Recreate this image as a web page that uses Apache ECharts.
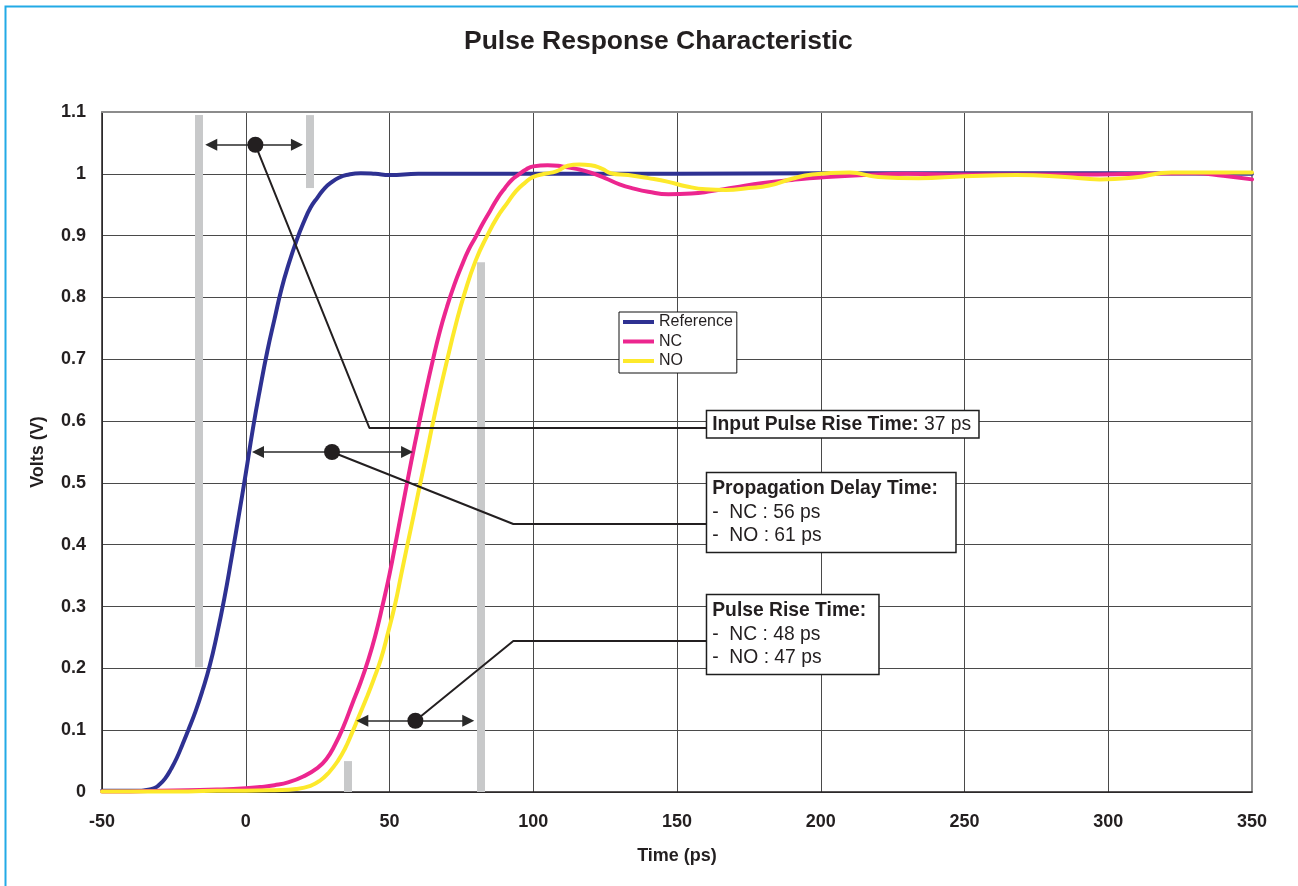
<!DOCTYPE html>
<html>
<head>
<meta charset="utf-8">
<script src="https://cdn.jsdelivr.net/npm/echarts@6/dist/echarts.min.js"></script>
<style>
html,body{margin:0;padding:0;background:#fff;}
#chart{width:1298px;height:886px;}
</style>
</head>
<body>
<div id="chart"></div>
<script>
// ---- curve data (time in ps, volts) ----
const refTime  = [-50,-45,-40,-37,-35,-32,-30,-28,-26,-24,-22,-20,-17.5,-15,-12.5,-10,-7.5,-5,-2.5,0,2.5,5,7.5,10,12.5,15,17.5,20,22.5,25,27.5,30,32.5,35,40,45,50,60,70,80,100,150,200,250,300,350];
const refVolts = [0.002,0.002,0.002,0.002,0.003,0.006,0.012,0.022,0.037,0.055,0.077,0.1,0.13,0.165,0.205,0.255,0.312,0.377,0.445,0.515,0.588,0.653,0.713,0.765,0.815,0.855,0.89,0.92,0.945,0.962,0.977,0.987,0.994,0.998,1.001,1.0,0.998,1.0,1.0,1.0,1.0,1.0,1.001,1.001,1.001,1.0];

const ncTime  = [-50,-40,-30,-20,-10,0,5,10,15,20,25,28,31,34,37,40,42.5,45,47.5,50,52.5,55,57.5,60,62.5,65,67.5,70,72.5,75,77.5,80,82.5,85,87.5,90,92.5,95,97.5,100,105,110,115,120,125,130,135,140,147,155,162,170,180,190,200,215,230,250,270,290,310,330,340,350];
const ncVolts = [0.001,0.001,0.002,0.003,0.004,0.006,0.008,0.011,0.016,0.025,0.039,0.053,0.076,0.106,0.142,0.178,0.212,0.252,0.3,0.352,0.412,0.473,0.533,0.59,0.645,0.697,0.745,0.785,0.82,0.85,0.877,0.898,0.92,0.94,0.96,0.976,0.99,0.999,1.007,1.012,1.014,1.012,1.008,1.002,0.993,0.983,0.976,0.971,0.967,0.968,0.972,0.978,0.985,0.99,0.994,0.998,1.0,0.999,0.999,0.999,1.0,1.001,0.997,0.991];

const noTime  = [-50,-40,-30,-20,-10,0,10,17.5,22.5,26,29,32,34.5,37,39.5,42,44.5,47,49.5,52,54,56,58.5,60.5,63,65,67.5,70,73,76,80,84,87.5,91,94,97,100,104,108,112,116,120,124,127,133,140,147,153,160,167,175,182,190,197,210,220,234,250,268,285,297,309,322,335,350];
const noVolts = [0.001,0.001,0.001,0.001,0.002,0.002,0.003,0.005,0.01,0.019,0.032,0.05,0.07,0.096,0.124,0.152,0.182,0.215,0.258,0.305,0.35,0.395,0.45,0.495,0.55,0.595,0.648,0.698,0.755,0.805,0.86,0.9,0.93,0.953,0.972,0.985,0.995,1.0,1.004,1.013,1.015,1.014,1.008,1.001,0.998,0.993,0.987,0.98,0.975,0.974,0.977,0.981,0.992,0.999,1.002,0.995,0.993,0.996,0.998,0.995,0.991,0.994,1.002,1.002,1.002];

const seriesNames = ['Reference', 'NC', 'NO'];

// ---- annotation geometry (in data units) ----
const barTime = [-16.2, 22.1, 35.65, 81.9];
const barFrom = [1.095, 1.095, 0.05, 0.857];
const barTo   = [0.202, 0.977, 0, 0];

const arrowLevel = [1.047, 0.55, 0.1153];
const arrowFrom  = [-14.1, 2.17, 38.45];
const arrowTo    = [19.9, 58.2, 79.5];
const dotTime    = [3.35, 30.0, 59.0];

const cornerTime  = [43.0, 93.06, 93.06];
const cornerLevel = [0.589, 0.4335, 0.2443];
const boxLeftTime = 160.5;
const boxCenter   = [0.595, 0.452, 0.2548];
const boxTexts = [
  '{b|Input Pulse Rise Time:}{n| 37 ps}',
  '{b|Propagation Delay Time:}\n{n|-  NC : 56 ps}\n{n|-  NO : 61 ps}',
  '{b|Pulse Rise Time:}\n{n|-  NC : 48 ps}\n{n|-  NO : 47 ps}'
];

const FONT = "'Liberation Sans', Arial, Helvetica, sans-serif";
const INK = '#231F20';
const colors = ['#2E3192', '#EC268F', '#FDE92B'];
const boxWidths = [266, 243, 166];
const headOffset = 2.1; // half arrow head, in ps

const zip = (a, b) => a.map((t, i) => [t, b[i]]);
const curves = [zip(refTime, refVolts), zip(ncTime, ncVolts), zip(noTime, noVolts)];

const chart = echarts.init(document.getElementById('chart'), null, {renderer: 'canvas'});

const series = [];

// grey bars
series.push({
  type: 'line', name: 'bars', data: [], z: 3, silent: true,
  markLine: {
    silent: true, symbol: 'none', animation: false,
    label: {show: false},
    lineStyle: {color: '#C8C9CA', width: 8, type: 'solid', cap: 'butt', opacity: 1},
    emphasis: {disabled: true},
    data: barTime.map((t, i) => [{coord: [t, barFrom[i]]}, {coord: [t, barTo[i]]}])
  }
});

// curves
seriesNames.forEach((n, i) => {
  series.push({
    type: 'line', name: n, data: curves[i], z: 4 + i * 0.1,
    showSymbol: false, symbol: 'none', smooth: 0.5,
    lineStyle: {color: colors[i], width: 4, cap: 'round', join: 'round'},
    itemStyle: {color: colors[i]},
    emphasis: {disabled: true}, silent: true
  });
});

// leader lines
dotTime.forEach((t, i) => {
  series.push({
    type: 'line', name: 'leader' + i, z: 6, silent: true,
    data: [[t, arrowLevel[i]], [cornerTime[i], cornerLevel[i]], [boxLeftTime, cornerLevel[i]]],
    showSymbol: false, symbol: 'none', smooth: false,
    lineStyle: {color: INK, width: 2, opacity: 1}, emphasis: {disabled: true}
  });
});

// arrows
series.push({
  type: 'line', name: 'arrows', data: [], z: 6, silent: true,
  markLine: {
    silent: true, animation: false,
    symbol: ['triangle', 'triangle'], symbolSize: [12, 12],
    label: {show: false},
    lineStyle: {color: '#2a2a2a', width: 1.5, type: 'solid', opacity: 1},
    emphasis: {disabled: true},
    data: arrowLevel.map((v, i) => [{coord: [arrowFrom[i] + headOffset, v]}, {coord: [arrowTo[i] - headOffset, v]}])
  }
});

// dots
series.push({
  type: 'scatter', name: 'dots', z: 7, silent: true,
  data: dotTime.map((t, i) => [t, arrowLevel[i]]),
  symbol: 'circle', symbolSize: 16,
  itemStyle: {color: INK, opacity: 1}, emphasis: {disabled: true}
});

// text boxes
boxTexts.forEach((txt, i) => {
  series.push({
    type: 'scatter', name: 'box' + i, z: 8, silent: true,
    data: [[boxLeftTime, boxCenter[i]]],
    symbolSize: 0.1, itemStyle: {color: 'rgba(0,0,0,0)', opacity: 1},
    label: {
      show: true, position: 'right', distance: 0,
      formatter: txt,
      width: boxWidths[i],
      opacity: 1,
      backgroundColor: '#fff', borderColor: '#1e1e1e', borderWidth: 1.5,
      padding: i === 0 ? [3, 0, 3, 5] : [4, 0, 4, 5],
      rich: {
        b: {fontFamily: FONT, fontWeight: 'bold', fontSize: 19.3, lineHeight: i === 0 ? 20 : 23.5, color: INK},
        n: {fontFamily: FONT, fontWeight: 'normal', fontSize: 19.3, lineHeight: i === 0 ? 20 : 23.5, color: INK}
      }
    },
    emphasis: {disabled: true}
  });
});

const tickFont = {fontFamily: FONT, fontWeight: 'bold', fontSize: 18, color: INK};
const frameLine = {show: true, onZero: false, lineStyle: {color: '#8c8c8c', width: 2}};

const option = {
  animation: false,
  backgroundColor: '#fff',
  title: {
    text: 'Pulse Response Characteristic',
    left: 459, top: 23,
    textStyle: {fontFamily: FONT, fontWeight: 'bold', fontSize: 26.5, color: INK}
  },
  legend: {
    data: seriesNames,
    left: 619, top: 312,
    orient: 'vertical',
    icon: 'rect', itemWidth: 31, itemHeight: 4, itemGap: 1.5,
    selectedMode: false,
    backgroundColor: '#fff',
    borderColor: '#111', borderWidth: 1,
    padding: [1, 4, 3, 4],
    textStyle: {fontFamily: FONT, fontSize: 16, color: INK, lineHeight: 18}
  },
  grid: {
    left: 102, top: 112, width: 1150, height: 680,
    show: false
  },
  xAxis: [{
    type: 'value', min: -50, max: 350, interval: 50,
    name: 'Time (ps)', nameLocation: 'middle', nameGap: 55,
    nameTextStyle: tickFont,
    axisLine: {show: true, onZero: false, lineStyle: {color: INK, width: 1.5}},
    axisTick: {show: false},
    axisLabel: Object.assign({margin: 21}, tickFont),
    splitLine: {show: true, lineStyle: {color: '#4a4a4a', width: 1}}
  }, {
    type: 'value', position: 'top', min: -50, max: 350, interval: 50,
    axisLine: frameLine, axisTick: {show: false}, axisLabel: {show: false}, splitLine: {show: false}
  }],
  yAxis: [{
    type: 'value', min: 0, max: 1.1, interval: 0.1,
    name: 'Volts (V)', nameLocation: 'middle', nameGap: 55,
    nameTextStyle: tickFont,
    axisLine: {show: true, onZero: false, lineStyle: {color: INK, width: 1.5}},
    axisTick: {show: false},
    axisLabel: Object.assign({margin: 16, formatter: v => String(+(+v).toFixed(1))}, tickFont),
    splitLine: {show: true, lineStyle: {color: '#4a4a4a', width: 1}}
  }, {
    type: 'value', position: 'right', min: 0, max: 1.1, interval: 0.1,
    axisLine: frameLine, axisTick: {show: false}, axisLabel: {show: false}, splitLine: {show: false}
  }],
  graphic: [{
    type: 'rect', silent: true, z: 100,
    shape: {x: 5.5, y: 6.5, width: 1400, height: 1000},
    style: {fill: 'none', stroke: '#22AAE6', lineWidth: 2}
  }],
  series: series
};

chart.setOption(option);
</script>
</body>
</html>
